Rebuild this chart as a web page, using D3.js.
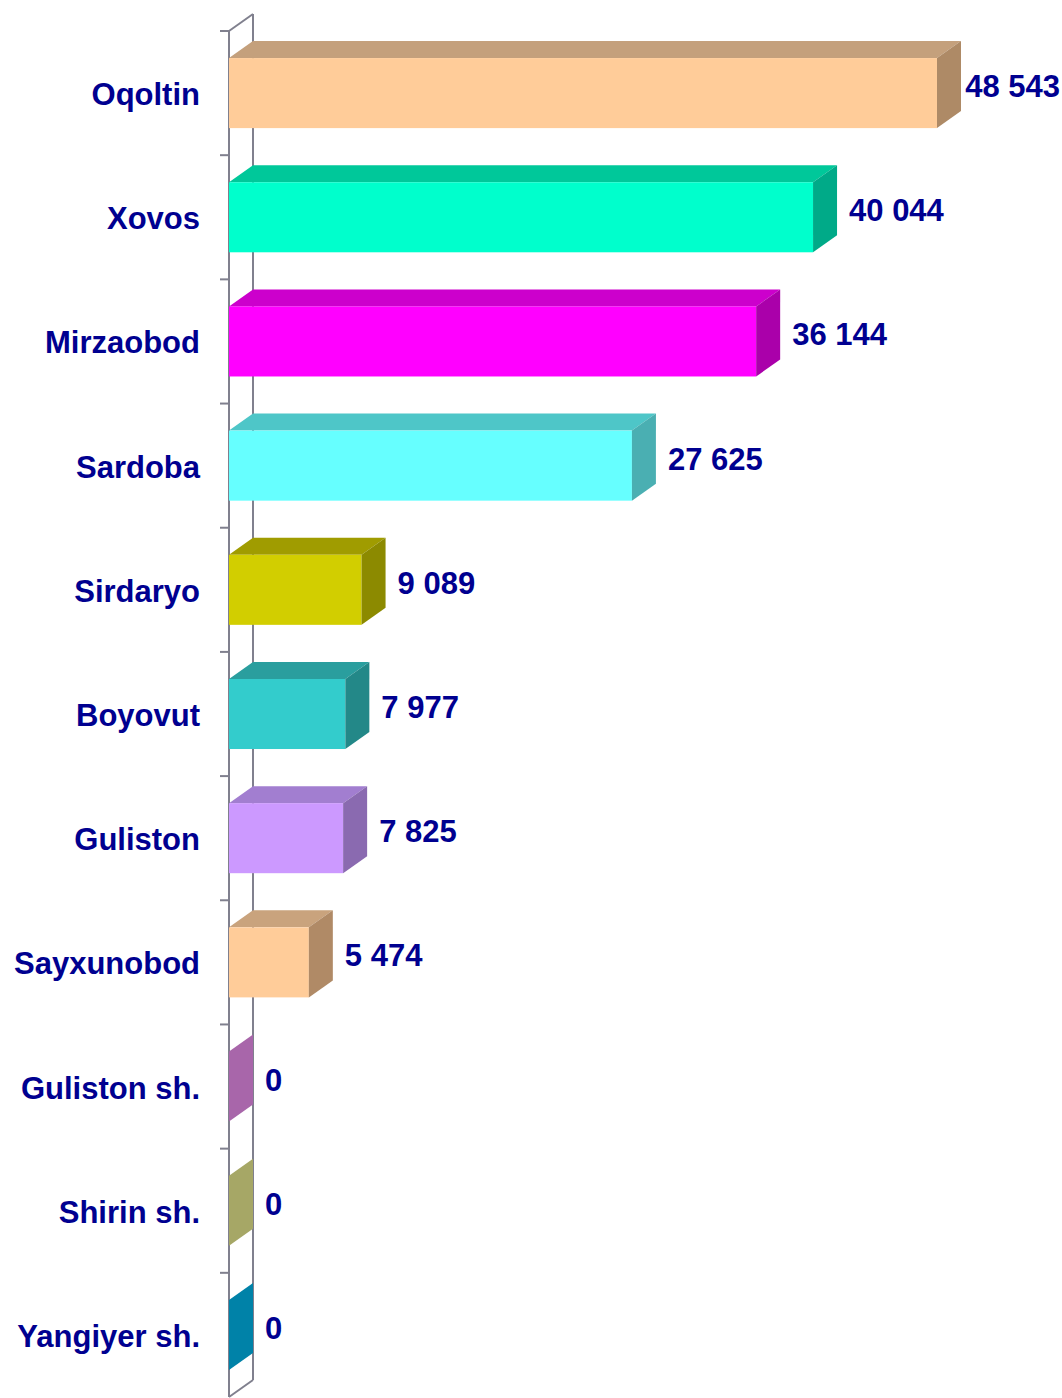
<!DOCTYPE html>
<html>
<head>
<meta charset="utf-8">
<script src="https://cdn.jsdelivr.net/npm/d3@7"></script>
<style>
  html, body { margin: 0; padding: 0; background: #ffffff; }
  svg { display: block; }
</style>
</head>
<body>
<svg id="chart" width="1062" height="1398"></svg>
<script>
const categories = ["Oqoltin", "Xovos", "Mirzaobod", "Sardoba", "Sirdaryo", "Boyovut", "Guliston", "Sayxunobod", "Guliston sh.", "Shirin sh.", "Yangiyer sh."];
const values = [48543, 40044, 36144, 27625, 9089, 7977, 7825, 5474, 0, 0, 0];
const valueLabels = ["48 543", "40 044", "36 144", "27 625", "9 089", "7 977", "7 825", "5 474", "0", "0", "0"];

// styles (front, top, side)
const frontColors = ["#FFCC99", "#00FFCC", "#FF00FF", "#66FFFF", "#D2CE00", "#33CCCC", "#CC99FF", "#FFCC99", "#B46EB6", "#AEAE6C", "#0A86AC"];
const topColors   = ["#C4A07C", "#00C89A", "#CC00CC", "#4EC6C8", "#A09C00", "#2A9E9E", "#A27ED0", "#C9A37D", "#A866AA", "#A6A766", "#0082A8"];
const sideColors  = ["#AE8A66", "#00AA88", "#AA00AA", "#4AAFB2", "#8C8A00", "#238888", "#8A6AB0", "#B08A66", "#A866AA", "#A6A766", "#0082A8"];

const svg = d3.select("#chart");
const W = 1062, H = 1398;
const dx = 24, dy = 17;
const x0 = 229, yTop = 31, yBot = 1397;

const x = d3.scaleLinear().domain([0, 50000]).range([x0, x0 + 708 * 50000 / 48543]);
const y = d3.scaleBand().domain(categories).range([yTop, yBot]).paddingInner(0.436).paddingOuter(0.218);

const wallColor = "#80808E";
const g = svg.append("g");

// wall (axis plane)
g.append("line").attr("x1", x0 + dx).attr("y1", yTop - dy).attr("x2", x0 + dx).attr("y2", yBot - dy)
  .attr("stroke", wallColor).attr("stroke-width", 2);
g.append("line").attr("x1", x0).attr("y1", yTop).attr("x2", x0 + dx).attr("y2", yTop - dy)
  .attr("stroke", wallColor).attr("stroke-width", 2);
g.append("line").attr("x1", x0).attr("y1", yBot).attr("x2", x0 + dx).attr("y2", yBot - dy)
  .attr("stroke", wallColor).attr("stroke-width", 2);
g.append("line").attr("x1", x0).attr("y1", yTop).attr("x2", x0).attr("y2", yBot)
  .attr("stroke", wallColor).attr("stroke-width", 2);

// ticks at band boundaries
const step = y.step();
const tickYs = d3.range(categories.length).map(i => yTop + i * step);
g.selectAll(".tick").data(tickYs).enter().append("line")
  .attr("x1", x0 - 9).attr("x2", x0).attr("y1", d => d).attr("y2", d => d)
  .attr("stroke", wallColor).attr("stroke-width", 2);

// bars
const bars = g.selectAll(".bar").data(categories).enter().append("g");
bars.each(function(c, i) {
  const b = d3.select(this);
  const xa = x(0), xb = x(values[i]);
  const y0 = y(c), y1 = y(c) + y.bandwidth();
  b.append("polygon")
    .attr("points", [[xa, y0], [xa + dx, y0 - dy], [xb + dx, y0 - dy], [xb, y0]].map(p => p.join(",")).join(" "))
    .attr("fill", topColors[i]);
  b.append("rect").attr("x", xa).attr("y", y0).attr("width", xb - xa).attr("height", y1 - y0)
    .attr("fill", frontColors[i]);
  b.append("polygon")
    .attr("points", [[xb, y0], [xb + dx, y0 - dy], [xb + dx, y1 - dy], [xb, y1]].map(p => p.join(",")).join(" "))
    .attr("fill", sideColors[i]);
});

const font = "'Liberation Sans', Arial, Helvetica, sans-serif";
const textColor = "#000090";

// category labels
g.selectAll(".cat").data(categories).enter().append("text")
  .attr("x", 200).attr("y", d => y(d) + y.bandwidth() / 2 + 12)
  .attr("text-anchor", "end")
  .attr("font-family", font).attr("font-weight", "bold").attr("font-size", 31)
  .attr("fill", textColor)
  .text(d => d);

// value labels
g.selectAll(".val").data(categories).enter().append("text")
  .attr("y", d => y(d) + y.bandwidth() / 2 + 4)
  .attr("font-family", font).attr("font-weight", "bold").attr("font-size", 31)
  .attr("fill", textColor)
  .text((d, i) => valueLabels[i])
  .attr("x", function(d, i) {
    const w = this.getComputedTextLength();
    const xs = x(values[i]) + dx + 12;
    return Math.min(xs, W - w - 2);
  });
</script>
</body>
</html>
